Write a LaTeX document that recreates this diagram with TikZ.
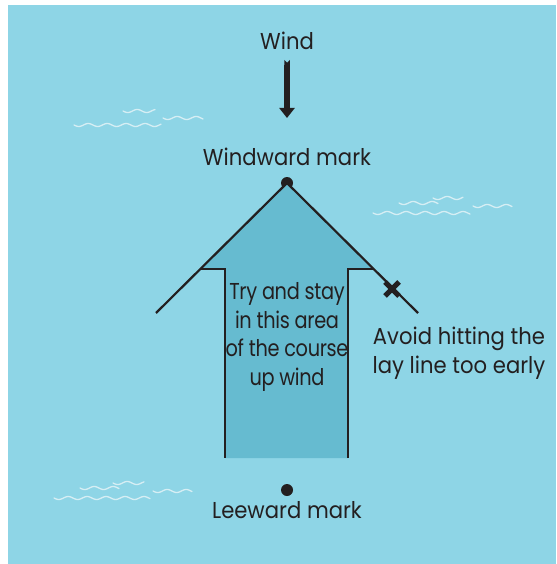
\documentclass[tikz,border=0pt]{standalone}
\usepackage{fontspec}
\setmainfont{Poppins}[FakeStretch=0.92]
\newfontfamily\narrowfont{Poppins}[FakeStretch=0.84, LetterSpace=-1.5]
\usetikzlibrary{arrows.meta}
\definecolor{sea}{RGB}{142,213,230}
\definecolor{zone}{RGB}{102,187,208}
\definecolor{foam}{RGB}{214,238,244}
\definecolor{ink}{RGB}{35,31,32}

\tikzset{
    marktext/.style={font=\fontsize{23}{28.5}\selectfont, text=ink, inner sep=0pt, align=center, anchor=base},
    buoy/.style={circle, fill=ink, inner sep=0pt, minimum size=12pt},
    layline/.style={draw=ink, line width=2.2pt},
    wave/.style={draw=foam, line width=1.3pt, line cap=round}
}

% small wavy line: x, y, length
\newcommand{\wavelet}[3]{\draw[wave] plot[domain=0:#3, samples=60, smooth] ({#1+\x},{#2+1.5*sin(19*\x)});}

\begin{document}
\begin{tikzpicture}[x=1pt, y=-1pt]
    \useasboundingbox (0,0) rectangle (556,564);
    \fill[sea] (8,5) rectangle (556,564);

    % waves
    \wavelet{74}{125}{87}
    \wavelet{123}{111}{32}
    \wavelet{163}{118}{40}
    \wavelet{373}{213}{97}
    \wavelet{399}{203}{39}
    \wavelet{433}{198}{30}
    \wavelet{473}{206}{39}
    \wavelet{54}{498}{96}
    \wavelet{80}{488}{39}
    \wavelet{113}{483}{31}
    \wavelet{153}{491}{39}

    % marks
    \node[buoy] (windward) at (287,183) {};
    \node[buoy] (leeward) at (287,490) {};
    \coordinate (layL) at (156,313);
    \coordinate (layR) at (418,313);
    \coordinate (shL) at (201,269);
    \coordinate (shR) at (373,269);

    % area to stay in
    \fill[zone] (shL) -- (225,269) -- (225,458) -- (348,458) -- (348,269) -- (shR) -- (windward.center) -- cycle;
    \draw[layline] (shL) -- (225,269) -- (225,458);
    \draw[layline] (shR) -- (348,269) -- (348,458);
    \draw[layline] (layL) -- (windward.center) -- (layR);

    % cross on the lay line
    \coordinate (early) at (392,289);
    \draw[ink, line width=5pt] ([shift={(-7,-7)}]early) -- ([shift={(7,7)}]early);
    \draw[ink, line width=5pt] ([shift={(-7,7)}]early) -- ([shift={(7,-7)}]early);

    % labels (base = last line)
    \node[marktext] (wind) at (287,50) {Wind};
    \node[marktext] (windwardtxt) at (287,165) {Windward mark};
    \node[marktext] (leewardtxt) at (287,518) {Leeward mark};
    \node[marktext, font=\narrowfont\fontsize{23}{28.5}\selectfont] (stay) at (287,385) {Try and stay\\in this area\\of the course\\up wind};
    \node[marktext] (avoid) at (459,373) {Avoid hitting the\\lay line too early};

    % wind arrow
    \coordinate (windtip) at (287,118);
    \draw[ink, line width=5.5pt, {Triangle Cap[reversed]}-{Triangle[width=15pt, length=10pt]}] (287,60) -- (windtip);
\end{tikzpicture}
\end{document}
